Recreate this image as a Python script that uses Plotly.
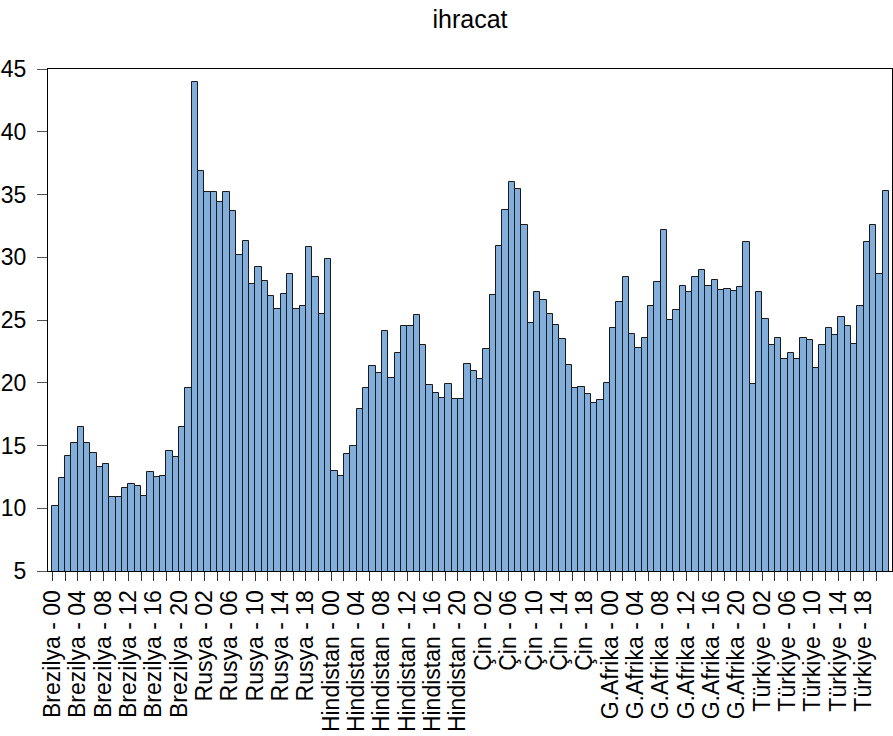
import plotly.graph_objects as go

countries = ["Brezilya", "Rusya", "Hindistan", "Çin", "G.Afrika", "Türkiye"]
years = [f"{y:02d}" for y in range(0, 22)]

brezilya = [10.2, 12.4, 14.2, 15.2, 16.5, 15.2, 14.4, 13.3, 13.5, 10.9, 10.9,
            11.6, 11.9, 11.8, 11.0, 12.9, 12.5, 12.6, 14.6, 14.1, 16.5, 19.6]
rusya = [44.0, 36.9, 35.2, 35.2, 34.4, 35.2, 33.7, 30.2, 31.3, 27.9, 29.2,
         28.1, 26.9, 25.9, 27.1, 28.7, 25.9, 26.1, 30.8, 28.4, 25.5, 29.9]
hindistan = [13.0, 12.6, 14.3, 15.0, 17.9, 19.6, 21.3, 20.8, 24.1, 20.4, 22.4,
             24.5, 24.5, 25.4, 23.0, 19.8, 19.2, 18.8, 19.9, 18.7, 18.7, 21.5]
cin = [20.9, 20.3, 22.7, 27.0, 30.9, 33.8, 36.0, 35.4, 32.6, 24.8, 27.2,
       26.6, 25.5, 24.6, 23.5, 21.4, 19.6, 19.7, 19.1, 18.4, 18.6, 20.0]
gafrika = [24.4, 26.4, 28.4, 23.9, 22.8, 23.6, 26.1, 28.0, 32.2, 25.0, 25.8,
           27.7, 27.2, 28.4, 29.0, 27.7, 28.2, 27.4, 27.5, 27.3, 27.6, 31.2]
turkiye = [19.9, 27.2, 25.1, 23.0, 23.6, 21.9, 22.4, 21.9, 23.6, 23.4, 21.2,
           23.0, 24.4, 23.8, 25.2, 24.5, 23.1, 26.1, 31.2, 32.6, 28.7, 35.3]

series = [brezilya, rusya, hindistan, cin, gafrika, turkiye]

labels = []
values = []
for country, vals in zip(countries, series):
    for yr, v in zip(years, vals):
        labels.append(f"{country} - {yr}")
        values.append(v)

# bars sit between integer ticks (EViews style)
xpos = [i + 0.5 for i in range(len(values))]
tickvals = list(range(0, len(values), 2))
ticktext = [labels[i] if i % 4 == 0 else "" for i in tickvals]

fig = go.Figure(
    go.Bar(
        x=xpos,
        y=values,
        width=1,
        marker=dict(color="#82AEDC", line=dict(color="#1a1a1a", width=1)),
        hovertext=labels,
    )
)

axis_font = dict(family="Liberation Sans, Arial, sans-serif", size=23, color="black")

fig.update_layout(
    width=893,
    height=736,
    template="simple_white",
    showlegend=False,
    bargap=0,
    margin=dict(l=48, r=1, t=69, b=165),
    title=dict(
        text="ihracat",
        x=0.5263,
        xanchor="center",
        y=0.986,
        yanchor="top",
        font=dict(family="Liberation Sans, Arial, sans-serif", size=25, color="black"),
    ),
    plot_bgcolor="white",
    paper_bgcolor="white",
)
fig.update_xaxes(
    range=[-0.69, 132.48],
    tickmode="array",
    tickvals=tickvals,
    ticktext=ticktext,
    tickangle=-90,
    ticks="outside",
    ticklen=9,
    tickcolor="#333",
    tickfont=axis_font,
    showline=True,
    linecolor="black",
    linewidth=1,
    mirror=True,
    showgrid=False,
    zeroline=False,
    automargin=False,
)
fig.update_yaxes(
    range=[5, 45],
    tickvals=[5, 10, 15, 20, 25, 30, 35, 40, 45],
    ticks="outside",
    ticklen=10,
    tickcolor="#555",
    tickfont=axis_font,
    ticklabelstandoff=6,
    showline=True,
    linecolor="black",
    linewidth=1,
    mirror=True,
    showgrid=False,
    zeroline=False,
    automargin=False,
)

fig.write_html(
    "out.html",
    config={"displayModeBar": False},
    post_script="document.body.style.margin='0';",
)
